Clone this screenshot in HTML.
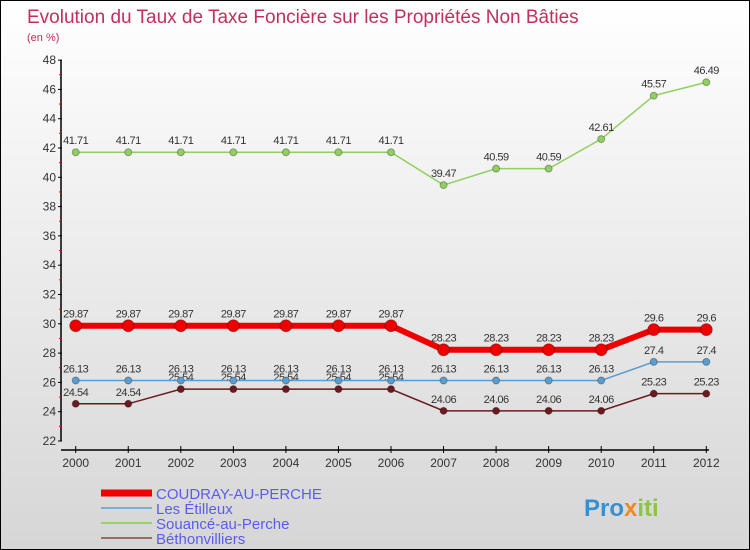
<!DOCTYPE html>
<html><head><meta charset="utf-8"><style>
body{margin:0}
#wrap{width:748px;height:548px;border:1px solid #000;background:linear-gradient(#fff,#d6d6d6);position:relative;overflow:hidden;font-family:"Liberation Sans","DejaVu Sans",sans-serif}
</style></head><body>
<div id="wrap">
<svg id="chart" width="748" height="548" xmlns="http://www.w3.org/2000/svg"></svg>
</div>
<script>
const years=[2000,2001,2002,2003,2004,2005,2006,2007,2008,2009,2010,2011,2012];
const yTicks=[22,24,26,28,30,32,34,36,38,40,42,44,46,48];
const coudray=[29.87,29.87,29.87,29.87,29.87,29.87,29.87,28.23,28.23,28.23,28.23,29.6,29.6];
const etilleux=[26.13,26.13,26.13,26.13,26.13,26.13,26.13,26.13,26.13,26.13,26.13,27.4,27.4];
const souance=[41.71,41.71,41.71,41.71,41.71,41.71,41.71,39.47,40.59,40.59,42.61,45.57,46.49];
const bethon=[24.54,24.54,25.54,25.54,25.54,25.54,25.54,24.06,24.06,24.06,24.06,25.23,25.23];
const NS="http://www.w3.org/2000/svg";
const svg=document.getElementById('chart');
const X=i=>74.7+i*52.55;
const Y=v=>440-(v-22)*14.65;
function mk(t,a,p){const e=document.createElementNS(NS,t);for(const k in a)e.setAttribute(k,a[k]);(p||svg).appendChild(e);return e;}
// title
let t=mk('text',{x:26,y:22,fill:'#c0305a','font-size':19});t.textContent='Evolution du Taux de Taxe Foncière sur les Propriétés Non Bâties';


t=mk('text',{x:26,y:40,fill:'#c0305a','font-size':11});t.textContent='(en %)';


// axes
mk('line',{x1:60,y1:Y(48),x2:60,y2:Y(22),stroke:'#000','stroke-width':1.5});
mk('line',{x1:60,y1:449,x2:708,y2:449,stroke:'#000','stroke-width':1.5});
yTicks.forEach((v,i)=>{
 mk('line',{x1:57,y1:Y(v),x2:61,y2:Y(v),stroke:'#000'});
 if(i<yTicks.length-1)mk('line',{x1:58,y1:Y(v+1),x2:60,y2:Y(v+1),stroke:'red'});
 const l=mk('text',{x:55,y:Y(v)+4,'text-anchor':'end','font-size':12,fill:'#333'});l.textContent=v;
 
 
});
years.forEach((y,i)=>{
 mk('line',{x1:X(i),y1:445,x2:X(i),y2:452,stroke:'#000'});
 const l=mk('text',{x:X(i),y:466,'text-anchor':'middle','font-size':12,fill:'#333'});l.textContent=y;
 
 
});
function series(d,col,w,r,name,lab){
 const g=mk('g',{});
 
 
 mk('polyline',{points:d.map((v,i)=>X(i)+','+Y(v)).join(' '),fill:'none',stroke:col,'stroke-width':w},g);
 d.forEach((v,i)=>{
  const c=mk('circle',{cx:X(i),cy:Y(v),r:r,fill:col,stroke:'rgba(0,0,0,0.3)'},g);
  
  
  const l=mk('text',{x:X(i),y:Y(v)-8,'text-anchor':'middle','font-size':11,fill:'#333','letter-spacing':'-0.5'},g);l.textContent=v;
  
  
 });
}
series(souance,'#8fd060',1.5,3.5,'souance-series');
series(bethon,'#6b1a20',1.5,3.5,'bethonvilliers-series');
series(etilleux,'#5a9ed0',1.5,3.5,'etilleux-series');
series(coudray,'#ee0000',6,6,'coudray-series');
// legend
const leg=[['COUDRAY-AU-PERCHE','#ee0000',7],['Les Étilleux','#7aaed6',2],['Souancé-au-Perche','#9ad070',2],['Béthonvilliers','#9a6a6a',2]];
leg.forEach((e,i)=>{
 const y=492+i*15;
 const g=mk('g',{});
 
 
 mk('line',{x1:100,y1:y,x2:151,y2:y,stroke:e[1],'stroke-width':e[2]},g);
 const l=mk('text',{x:155,y:y+6,'font-size':15,fill:'#5b5bf0'},g);l.textContent=e[0];
});
// logo
const lg=mk('text',{x:583,y:515,'font-size':24,'font-weight':'bold',fill:'#3a8fd0'});
lg.innerHTML='Pro<tspan fill="#f08a20">x</tspan><tspan fill="#8cc63f">iti</tspan>';


</script>
</body></html>
